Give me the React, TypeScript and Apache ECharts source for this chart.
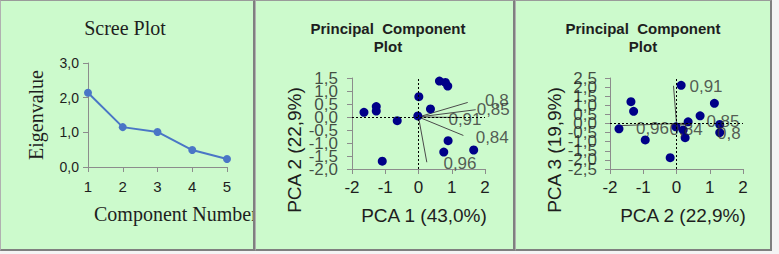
import React, { useEffect, useRef } from "react";
import * as echarts from "echarts";

// ---------- data ----------
const screeComponents = ["1", "2", "3", "4", "5"];
const screeEigenvalues = [2.14, 1.15, 1.01, 0.49, 0.23];

const pc12X = [-1.64, -1.27, -1.27, -0.64, -1.09, 0.01, -0.02, 0.36, 0.63, 0.81, 0.88, 0.89, 0.76, 1.66];
const pc12Y = [0.18, 0.4, 0.23, -0.14, -1.7, 0.78, 0.04, 0.31, 1.38, 1.33, 1.19, -0.91, -1.35, -1.27];
const pc12Loadings = ["0,8", "0,85", "0,91", "0,84", "0,96"];
const pc12VecX = [1.48, 1.72, 1.3, 1.35, 0.25];
const pc12VecY = [0.56, 0.28, -0.02, -0.71, -1.74];
const pc12LabelX = [2.0, 1.75, 0.9, 1.72, 0.75];
const pc12LabelY = [0.63, 0.29, -0.11, -0.78, -1.8];
const pc12YTicks = [1.5, 1.0, 0.5, 0.0, -0.5, -1.0, -1.5, -2.0];

const pc23X = [-1.73, -1.37, -1.29, -0.94, -0.19, 0.14, -0.02, 0.2, 0.26, 0.35, 0.71, 1.14, 1.3, 1.3];
const pc23Y = [-0.29, 1.2, 0.67, -0.9, -1.88, 2.1, -0.18, -0.36, -0.78, 0.09, 0.42, 1.11, -0.05, -0.5];
const pc23Loadings = ["0,91", "0,96", "0,84", "0,85", "0,8"];
const pc23VecX = [-0.09, -1.73, 0.15, 0.3, 0.3];
const pc23VecY = [2.07, -0.12, -0.1, 0.02, -0.08];
const pc23LabelX = [0.39, -1.22, -0.21, 0.9, 1.22];
const pc23LabelY = [2.06, -0.27, -0.32, 0.1, -0.54];
const pc23YTicks = [2.5, 2.0, 1.5, 1.0, 0.5, 0.0, -0.5, -1.0, -1.5, -2.0, -2.5];

// ---------- styles ----------
const GREEN = "#ccfacc";
const SANS = "'Liberation Sans', Arial, sans-serif";
const SERIF = "'Liberation Serif', 'Times New Roman', serif";
const AXIS = "#8c8c8c";
const TXT = "#1e1e1e";

const comma1 = (v: number) => v.toFixed(1).replace(".", ",");

function txt(text: string, x: number, y: number, size: number, family: string, opts: any = {}) {
  return {
    type: "text",
    x,
    y,
    rotation: opts.rotation || 0,
    silent: true,
    style: {
      text,
      fontSize: size,
      fontFamily: family,
      fontWeight: opts.bold ? "bold" : "normal",
      fill: TXT,
      align: opts.align || "center",
      verticalAlign: "middle",
      textAlign: opts.align || "center",
      textVerticalAlign: "middle",
      lineHeight: opts.lineHeight,
    },
  };
}

function pcaOption(
  gridLeft: number,
  yMin: number,
  yMax: number,
  yTicks: number[],
  xs: number[],
  ys: number[],
  vecX: number[],
  vecY: number[],
  labX: number[],
  labY: number[],
  labels: string[],
  titleX: number,
  xName: string,
  xNameX: number,
  yName: string,
  yNameX: number,
  yLabelMargin: number
) {
  const xMin = -2;
  return {
    animation: false,
    grid: { left: gridLeft, top: 78, width: 133, height: 91 },
    xAxis: {
      type: "value",
      min: xMin,
      max: 2,
      interval: 1,
      axisLine: { show: true, onZero: false, lineStyle: { color: AXIS } },
      axisTick: { show: true, length: 5, lineStyle: { color: AXIS } },
      splitLine: { show: false },
      axisLabel: { margin: 10, fontSize: 17, fontFamily: SANS, color: TXT, showMinLabel: true, showMaxLabel: true },
    },
    yAxis: {
      type: "value",
      min: yMin,
      max: yMax,
      interval: 0.5,
      axisLine: { show: true, onZero: false, lineStyle: { color: AXIS } },
      axisTick: { show: true, length: 5, lineStyle: { color: AXIS } },
      splitLine: { show: false },
      axisLabel: { show: false },
    },
    series: [
      {
        type: "lines",
        coordinateSystem: "cartesian2d",
        silent: true,
        lineStyle: { color: "#4a4a4a", width: 1, opacity: 1 },
        data: vecX.map((x, i) => ({ coords: [[0, 0], [x, vecY[i]]] })),
        z: 2,
      },
      {
        type: "scatter",
        symbol: "circle",
        symbolSize: 9,
        itemStyle: { color: "#000088", opacity: 1 },
        data: xs.map((x, i) => [x, ys[i]]),
        z: 3,
        markLine: {
          silent: true,
          symbol: ["none", "none"],
          label: { show: false },
          lineStyle: { type: [2, 2], color: "#000", width: 1 },
          data: [{ xAxis: 0 }, { yAxis: 0 }],
        },
      },
      {
        type: "scatter",
        symbolSize: 0,
        silent: true,
        data: labX.map((x, i) => [x, labY[i], labels[i]]),
        label: {
          show: true,
          position: "right",
          distance: 0,
          formatter: (p: any) => p.data[2],
          fontSize: 17,
          fontFamily: SANS,
          color: "#333",
        },
        z: 4,
      },
      {
        // y-axis tick labels (drawn as labels so none are auto-hidden)
        type: "scatter",
        symbolSize: 0,
        silent: true,
        clip: false,
        data: yTicks.map((v) => [xMin, v]),
        label: {
          show: true,
          position: "left",
          distance: yLabelMargin,
          formatter: (p: any) => comma1(p.data[1]),
          fontSize: 17,
          fontFamily: SANS,
          color: TXT,
        },
        z: 1,
      },
    ],
    graphic: [
      txt("Principal  Component\nPlot", titleX, 37, 15, SANS, { bold: true, lineHeight: 18 }),
      txt(xName, xNameX, 215, 19, SANS),
      txt(yName, yNameX, 150, 19, SANS, { rotation: Math.PI / 2 }),
    ],
  };
}

const screeOption = {
  animation: false,
  grid: { left: 88, top: 63, width: 139, height: 104 },
  xAxis: {
    type: "category",
    data: screeComponents,
    boundaryGap: false,
    axisLine: { show: true, lineStyle: { color: AXIS } },
    axisTick: { show: true, length: 5, lineStyle: { color: AXIS } },
    axisLabel: { margin: 12, fontSize: 15, fontFamily: SANS, color: TXT },
  },
  yAxis: {
    type: "value",
    min: 0,
    max: 3,
    interval: 1,
    axisLine: { show: true, lineStyle: { color: AXIS } },
    axisTick: { show: true, length: 5, lineStyle: { color: AXIS } },
    splitLine: { show: false },
    axisLabel: { margin: 9, fontSize: 14, fontFamily: SANS, color: TXT, formatter: comma1, showMinLabel: true, showMaxLabel: true },
  },
  series: [
    {
      type: "line",
      data: screeEigenvalues,
      symbol: "circle",
      symbolSize: 8,
      lineStyle: { color: "#4a76c6", width: 2 },
      itemStyle: { color: "#4a76c6" },
    },
  ],
  graphic: [
    txt("Scree Plot", 125, 28, 20, SERIF),
    txt("Eigenvalue", 36, 115, 20, SERIF, { rotation: Math.PI / 2 }),
    txt("Component Number", 94, 214, 20, SERIF, { align: "left" }),
  ],
};

function Panel({ left, width, option }: { left: number; width: number; option: any }) {
  const ref = useRef<HTMLDivElement>(null);
  useEffect(() => {
    const chart = echarts.init(ref.current!, null, { renderer: "svg" });
    chart.setOption(option);
    return () => chart.dispose();
  }, []);
  return (
    <div style={{ position: "absolute", left, top: 0, width, height: 251, background: GREEN, overflow: "hidden" }}>
      <div ref={ref} style={{ width, height: 251 }} />
      <div
        style={{
          position: "absolute",
          left: 0,
          top: 0,
          width,
          height: 251,
          boxSizing: "border-box",
          borderTop: "1px solid #9a9a9a",
          borderLeft: "1px solid #b0b0b0",
          borderRight: "2px solid #7f7f7f",
          borderBottom: "2px solid #7f7f7f",
          pointerEvents: "none",
        }}
      />
    </div>
  );
}

export default function App() {
  const opt2 = pcaOption(97, -2, 1.5, pc12YTicks, pc12X, pc12Y, pc12VecX, pc12VecY, pc12LabelX, pc12LabelY, pc12Loadings,
    133, "PCA 1 (43,0%)", 169, "PCA 2 (22,9%)", 39, 14);
  const opt3 = pcaOption(95, -2.5, 2.5, pc23YTicks, pc23X, pc23Y, pc23VecX, pc23VecY, pc23LabelX, pc23LabelY, pc23Loadings,
    128, "PCA 2 (22,9%)", 168, "PCA 3 (19,9%)", 39, 13);
  return (
    <div style={{ position: "absolute", left: 0, top: 0, width: 779, height: 254, background: "#f4f4f4" }}>
      <Panel left={0} width={255} option={screeOption} />
      <Panel left={255} width={260} option={opt2} />
      <Panel left={515} width={257} option={opt3} />
    </div>
  );
}
